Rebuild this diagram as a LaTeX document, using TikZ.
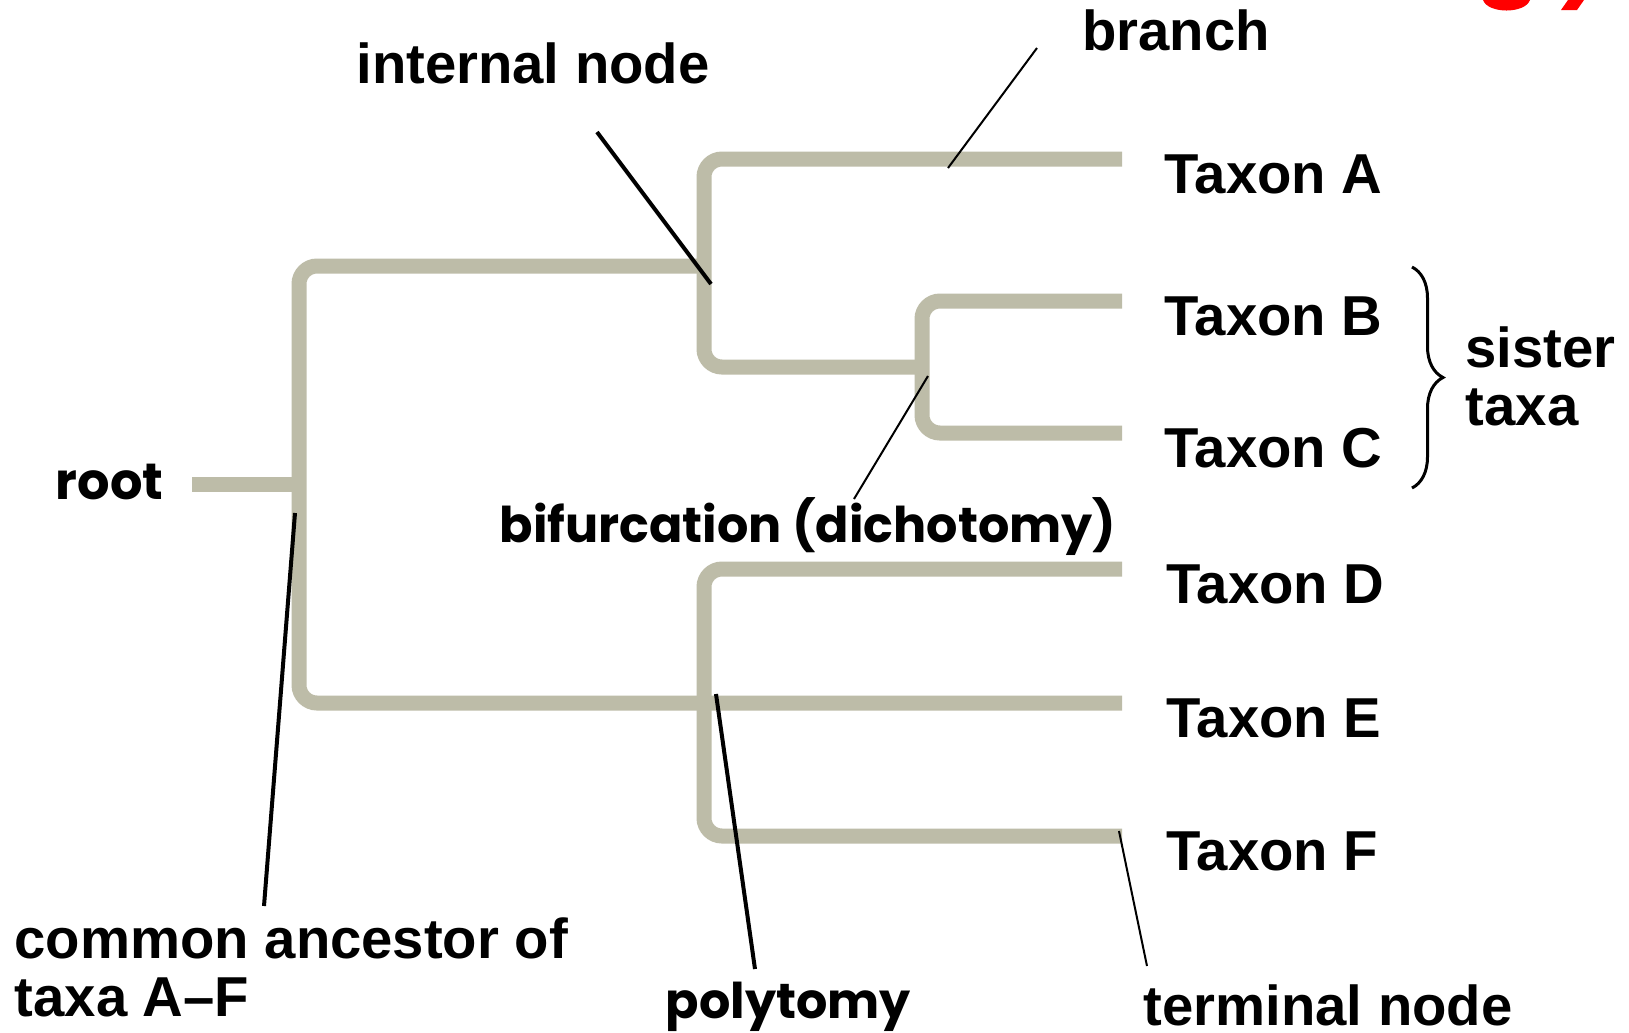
\documentclass[tikz,border=0pt]{standalone}
\usepackage{fontspec}
\setmainfont{Liberation Sans}
\newfontfamily\geofont{Poppins}
\usetikzlibrary{decorations.pathreplacing}
\newlength{\unitpx}
\setlength{\unitpx}{0.01cm}
\definecolor{twiggray}{RGB}{189,188,168}

\begin{document}
\begin{tikzpicture}[x=\unitpx, y=-\unitpx,
    twig/.style={draw=twiggray, line width=15\unitpx, rounded corners=18\unitpx},
    tag/.style={font=\fontsize{16}{19}\selectfont\bfseries, inner sep=0pt, anchor=base west},
    geotag/.style={font=\geofont\fontsize{14}{17}\selectfont\bfseries, inner sep=0pt, anchor=base west},
    pointer/.style={draw, line width=4\unitpx},
    thinpointer/.style={draw, line width=2\unitpx},
    sisterbrace/.style={draw, line width=3\unitpx, decorate, decoration={brace, amplitude=31\unitpx}}]
    \useasboundingbox (0,0) rectangle (1629,1032);
    \fill[white] (0,0) rectangle (1629,1032);

    % Tree
    \draw[twig] (192,484) -- (299,484);
    \draw[twig] (704,266) -- (299,266) -- (299,703) -- (1122,703);
    \draw[twig] (1122,159) -- (704,159) -- (704,367) -- (922,367);
    \draw[twig] (1122,301) -- (922,301) -- (922,433) -- (1122,433);
    \draw[twig] (1122,569) -- (704,569) -- (704,836) -- (1122,836);

    % Taxa
    \node[tag] (taxon-a) at (1164,193) {Taxon A};
    \node[tag] (taxon-b) at (1164,335) {Taxon B};
    \node[tag] (taxon-c) at (1164,467) {Taxon C};
    \node[tag] (taxon-d) at (1166,603) {Taxon D};
    \node[tag] (taxon-e) at (1166,737) {Taxon E};
    \node[tag] (taxon-f) at (1166,870) {Taxon F};

    % Sister taxa
    \draw[sisterbrace] (1412,267) -- (1412,488);
    \node[tag] (sister) at (1465,367) {sister};
    \node[tag] (sister-taxa) at (1465,425) {taxa};

    % Labels
    \node[tag, anchor=base] (branch-tag) at (1176,50) {branch};
    \node[tag, anchor=base] (internal-tag) at (533,83) {internal node};
    \node[geotag, font=\geofont\fontsize{14.5}{17}\selectfont\bfseries, anchor=base east] (root-tag) at (164,499) {root};
    \node[geotag] (bifur-tag) at (499,542) {bifurcation (dichotomy)};
    \node[tag] (ancestor-tag) at (14,958) {common ancestor of};
    \node[tag] (ancestor-taxa) at (14,1016) {taxa A–F};
    \node[geotag] (poly-tag) at (665,1018) {polytomy};
    \node[tag] (terminal-tag) at (1143,1025) {terminal node};

    % Pointers
    \coordinate (branch-from) at (1037,48);
    \coordinate (branch-to) at (948,168);
    \coordinate (internal-from) at (597,132);
    \coordinate (internal-to) at (711,284);
    \coordinate (bifur-from) at (854,499);
    \coordinate (bifur-to) at (928,376);
    \coordinate (ancestor-from) at (264,906);
    \coordinate (ancestor-to) at (295,513);
    \coordinate (poly-from) at (755,969);
    \coordinate (poly-to) at (716,694);
    \coordinate (terminal-from) at (1147,966);
    \coordinate (terminal-to) at (1119,831);
    \draw[thinpointer] (branch-from) -- (branch-to);
    \draw[pointer] (internal-from) -- (internal-to);
    \draw[thinpointer] (bifur-from) -- (bifur-to);
    \draw[pointer] (ancestor-from) -- (ancestor-to);
    \draw[pointer] (poly-from) -- (poly-to);
    \draw[thinpointer] (terminal-from) -- (terminal-to);

    % Red mark at the top edge
    \fill[red] (1483,0) .. controls (1488,14) and (1525,14) .. (1530,0) -- cycle;
    \fill[red] (1568,0) -- (1584,0) -- (1577,10) -- (1561,10) -- cycle;

\end{tikzpicture}
\end{document}
